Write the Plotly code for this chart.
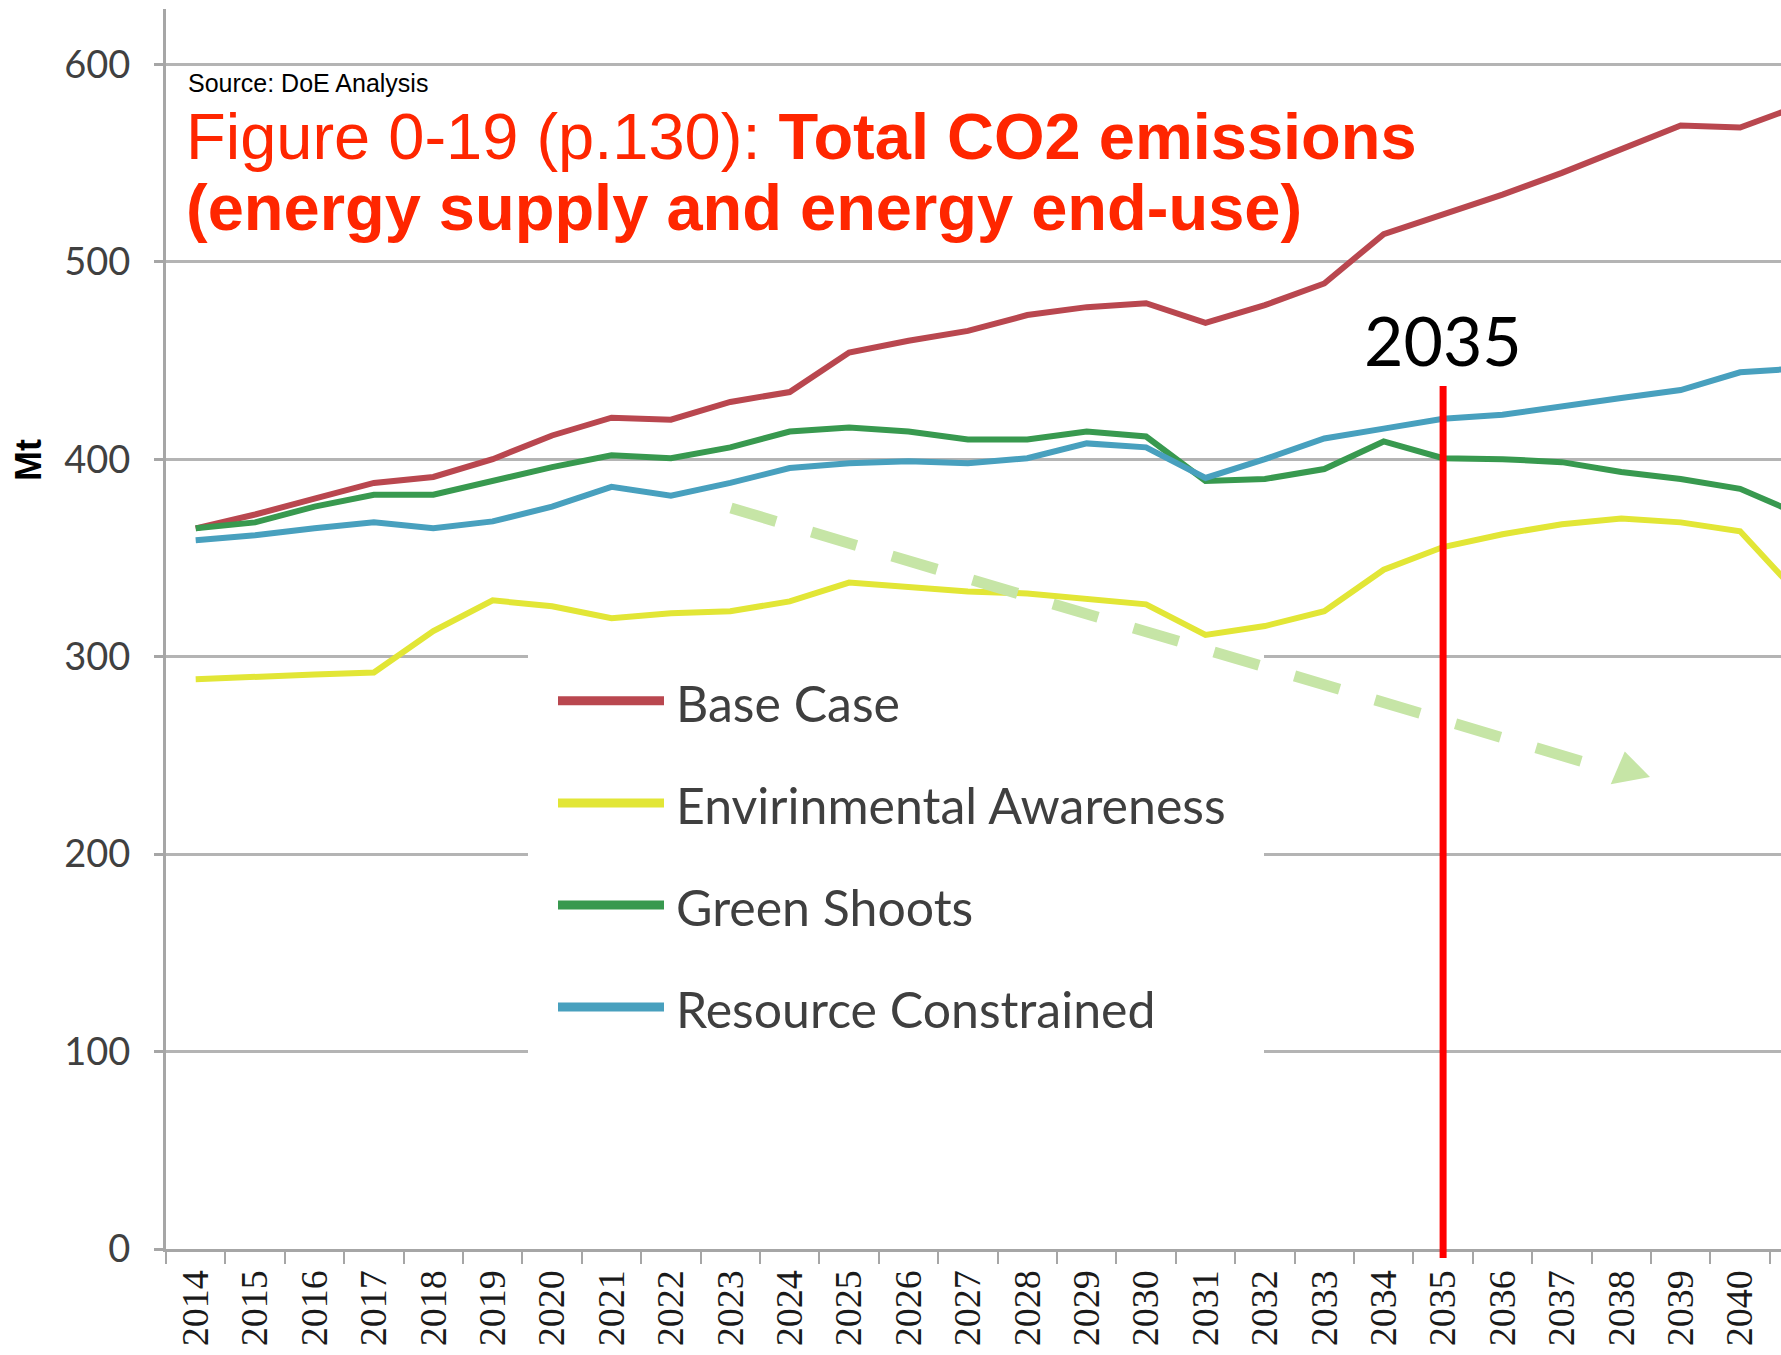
import plotly.graph_objects as go

# ---------------- data ----------------
years = list(range(2014, 2042))
year_labels = [str(y) for y in years]

series_names = ["Base Case", "Envirinmental Awareness", "Green Shoots", "Resource Constrained"]
series_colors = ["#B9474F", "#E2E636", "#38994F", "#48A0BE"]

base_case = [365, 372, 380, 388, 391, 400, 412, 421, 420, 429, 434, 454, 460, 465,
             473, 477, 479, 469, 478, 489, 514, 524, 534, 545, 557, 569, 568, 579]
env_awareness = [288.5, 290, 291, 292, 313, 328.5, 325.5, 319.5, 322, 323, 328, 337.5, 335.5, 333,
                 332, 329, 326.5, 311, 315.5, 323, 344, 355.5, 362, 367, 370, 368, 363.5, 331]
green_shoots = [365, 368, 376, 382, 382, 389, 396, 402, 400.5, 406, 414, 416, 414, 410,
                410, 414, 411.5, 389, 390, 395, 409, 400.5, 400, 398.5, 393.5, 390, 385, 372]
resource_constrained = [359, 361.5, 365, 368, 365, 368.5, 376, 386, 381.5, 388, 395.5, 398, 399, 398,
                        400.5, 408, 406, 390.5, 400, 410.5, 415.5, 420.5, 422.5, 427, 431, 435, 444, 446]

y_tick_values = [0, 100, 200, 300, 400, 500, 600]
marked_year = 2035
marked_label = "2035"
source_text = "Source: DoE Analysis"
title_line1 = "Figure 0-19 (p.130): <b>Total CO2 emissions</b>"
title_line2 = "<b>(energy supply and energy end-use)</b>"
y_title = "Mt"

all_series = [base_case, env_awareness, green_shoots, resource_constrained]

# ---------------- geometry ----------------
W, H = 1781, 1355
ML, MR, MT, MB = 166, 0, 9, 106
PW, PH = W - ML - MR, H - MT - MB
CAT_PX = 59.4
x_range = [years[0] - 0.5, years[0] - 0.5 + PW / CAT_PX]
y_range = [0, 628]


def px_x(px):
    return (px - ML) / PW


def px_y(py):
    return (H - MB - py) / PH


fig = go.Figure()
for name, vals, col in zip(series_names, all_series, series_colors):
    fig.add_trace(go.Scatter(x=years, y=vals, mode="lines", name=name,
                             line=dict(color=col, width=6), showlegend=False,
                             hoverinfo="x+y+name"))

shapes = []
annotations = []

# white legend panel (hides gridlines; no data passes through this area)
shapes.append(dict(type="rect", xref="paper", yref="paper",
                   x0=px_x(528), x1=px_x(1264), y0=px_y(1058), y1=px_y(648),
                   fillcolor="white", line=dict(width=0), layer="above"))

# legend samples + labels
legend_rows_py = [700.7, 803, 905, 1007]
for name, col, py in zip(series_names, series_colors, legend_rows_py):
    shapes.append(dict(type="line", xref="paper", yref="paper",
                       x0=px_x(558), x1=px_x(664), y0=px_y(py), y1=px_y(py),
                       line=dict(color=col, width=9), layer="above"))
    annotations.append(dict(xref="paper", yref="paper", x=px_x(674), y=px_y(py + 2),
                            text=name, showarrow=False, xanchor="left", yanchor="middle",
                            font=dict(family="Lato", size=50, color="#3F3F3F")))

# red vertical marker at 2035
shapes.append(dict(type="line", xref="x", yref="paper", x0=marked_year, x1=marked_year,
                   y0=px_y(1258), y1=px_y(386), line=dict(color="#FF0000", width=7), layer="above"))
annotations.append(dict(xref="x", yref="paper", x=marked_year, y=px_y(339), text=marked_label,
                        showarrow=False, xanchor="center", yanchor="middle",
                        font=dict(family="Lato", size=68, color="black")))

# green dashed arrow
shapes.append(dict(type="line", xref="paper", yref="paper",
                   x0=px_x(731), y0=px_y(508), x1=px_x(1582.6), y1=px_y(761.7),
                   line=dict(color="#C6E5A6", width=11, dash="47px,37px"), layer="above"))
tri = [(1610.7, 784.2), (1624.8, 751.4), (1650, 777)]
path = "M {} {} L {} {} L {} {} Z".format(*[v for p in tri for v in (px_x(p[0]), px_y(p[1]))])
shapes.append(dict(type="path", xref="paper", yref="paper", path=path,
                   fillcolor="#C6E5A6", line=dict(width=0), layer="above"))

# titles
annotations.append(dict(xref="paper", yref="paper", x=px_x(186), y=px_y(83), text=source_text,
                        showarrow=False, xanchor="left", yanchor="middle",
                        font=dict(family="Liberation Sans", size=25, color="black")))
annotations.append(dict(xref="paper", yref="paper", x=px_x(184), y=px_y(136), text=title_line1,
                        showarrow=False, xanchor="left", yanchor="middle",
                        font=dict(family="Liberation Sans", size=65, color="#FF2600")))
annotations.append(dict(xref="paper", yref="paper", x=px_x(184), y=px_y(207), text=title_line2,
                        showarrow=False, xanchor="left", yanchor="middle",
                        font=dict(family="Liberation Sans", size=65, color="#FF2600")))

# y-axis title
annotations.append(dict(xref="paper", yref="paper", x=px_x(28), y=px_y(460), text="<b>%s</b>" % y_title,
                        showarrow=False, textangle=-90, xanchor="center", yanchor="middle",
                        font=dict(family="Liberation Sans", size=36, color="black")))

fig.update_layout(
    width=W, height=H, autosize=False,
    margin=dict(l=ML, r=MR, t=MT, b=MB, pad=0),
    paper_bgcolor="white", plot_bgcolor="white",
    shapes=shapes, annotations=annotations, showlegend=False,
    xaxis=dict(range=x_range, tickmode="array", tickvals=years, ticktext=year_labels,
               tickangle=-90, ticks="", showgrid=False, zeroline=False, automargin=False,
               showline=True, linecolor="#A6A6A6", linewidth=3,
               ticklabelstandoff=3,
               tickfont=dict(family="Liberation Serif", size=38, color="#1A1A1A"),
               minor=dict(tickmode="array", tickvals=[y - 0.5 for y in years],
                          ticks="outside", ticklen=12, tickwidth=2, tickcolor="#A6A6A6",
                          showgrid=False)),
    yaxis=dict(range=y_range, tickmode="array", tickvals=y_tick_values, automargin=False,
               ticks="outside", ticklen=9, tickwidth=2.5, tickcolor="#A6A6A6",
               showgrid=True, gridcolor="#B4B4B4", gridwidth=2.5, zeroline=False,
               showline=True, linecolor="#A6A6A6", linewidth=3,
               ticklabelstandoff=16,
               tickfont=dict(family="Lato", size=38, color="#404040")),
)

fig.write_html("out.html", config={"displayModeBar": False},
               post_script="document.body.style.margin='0';")
